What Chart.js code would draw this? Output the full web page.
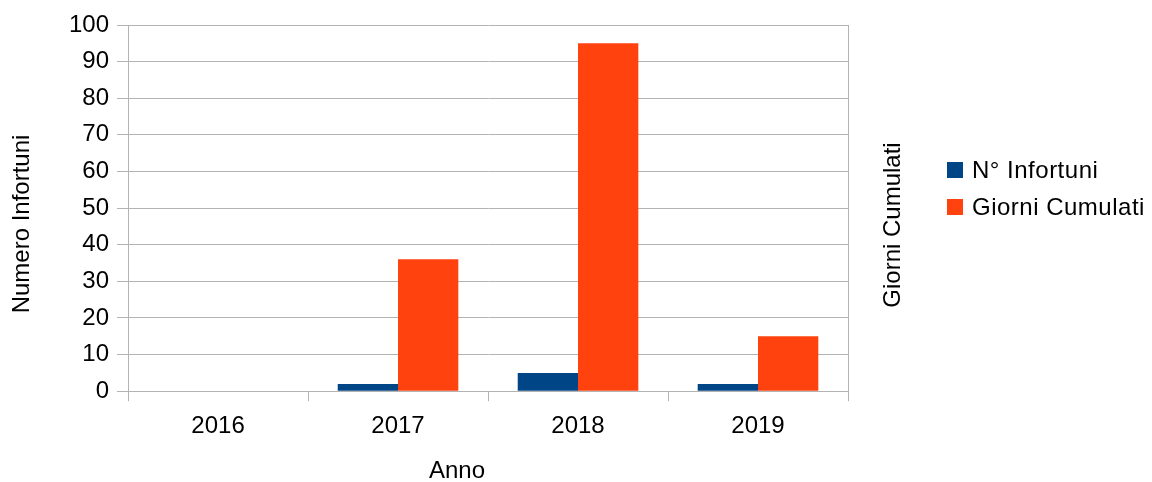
<!DOCTYPE html>
<html>
<head>
<meta charset="utf-8">
<script src="https://cdn.jsdelivr.net/npm/chart.js@4.4.1/dist/chart.umd.min.js"></script>
<style>
  body { margin: 0; background: #fff; }
  #wrap { position: relative; width: 1152px; height: 482px; }
  #legend {
    position: absolute; left: 947px; top: 156px;
    font-family: 'Liberation Sans', Arial, sans-serif; font-size: 24px; color: #000;
  }
  #legend .item { position: absolute; left: 0; white-space: nowrap; height: 28px; line-height: 28px; }
  #legend .box { position: absolute; left: 0; top: 6px; width: 16px; height: 16px; }
  #legend .txt { position: absolute; left: 25px; top: 0; letter-spacing: 0.5px; }
</style>
</head>
<body>
<div id="wrap"><canvas id="chart"></canvas><div id="legend"></div></div>
<script>
// data
const anni = ["2016", "2017", "2018", "2019"];
const numeroInfortuni = [0, 2, 5, 2];
const giorniCumulati = [0, 36, 95, 15];
const yTicks = [0, 10, 20, 30, 40, 50, 60, 70, 80, 90, 100];

const seriesNames = ["N° Infortuni", "Giorni Cumulati"];
const seriesColors = ["#004586", "#ff420e"];

const gridColor = "#b3b3b3";
const font = "'Liberation Sans', Arial, sans-serif";

Chart.defaults.font.family = font;
Chart.defaults.color = "#000";

// axis titles, placed like the original (not centred on the plot)
const axisTitles = {
    id: "axisTitles",
    afterDraw(chart) {
        const c = chart.ctx;
        c.save();
        c.font = "24px " + font;
        c.fillStyle = "#000";
        c.textAlign = "center";
        c.textBaseline = "middle";
        c.fillText("Anno", 457, 471);

        c.translate(22, 224);
        c.rotate(-Math.PI / 2);
        c.fillText("Numero Infortuni", 0, 0);
        c.restore();

        c.save();
        c.font = "24px " + font;
        c.fillStyle = "#000";
        c.textAlign = "center";
        c.textBaseline = "middle";
        c.translate(893, 225);
        c.rotate(-Math.PI / 2);
        c.fillText("Giorni Cumulati", 0, 0);
        c.restore();
    }
};

let ctx = document.getElementById("chart").getContext("2d");
let chart = new Chart(ctx, {
    type: "bar",
    data: {
        labels: anni,
        datasets: [{
            label: seriesNames[0],
            data: numeroInfortuni,
            backgroundColor: seriesColors[0],
            yAxisID: "y"
        }, {
            label: seriesNames[1],
            data: giorniCumulati,
            backgroundColor: seriesColors[1],
            yAxisID: "y"
        }]
    },
    options: {
        responsive: true,
        maintainAspectRatio: false,
        animation: false,
        categoryPercentage: 0.67,
        barPercentage: 1.0,
        layout: { padding: { top: 25, left: 61, right: 304, bottom: 30 } },
        plugins: {
            legend: { display: false },
            tooltip: { enabled: false }
        },
        scales: {
            x: {
                grid: {
                    display: true,
                    drawOnChartArea: false,
                    drawTicks: true,
                    tickLength: 10,
                    color: gridColor,
                    offset: true
                },
                border: { display: true, color: gridColor },
                ticks: { font: { size: 24 }, color: "#000", padding: 11 }
            },
            y: {
                position: "left",
                min: 0,
                max: 100,
                afterBuildTicks: axis => {
                    axis.ticks = yTicks.map(v => ({ value: v }));
                },
                grid: {
                    color: gridColor,
                    tickLength: 11
                },
                border: { display: true, color: gridColor },
                ticks: { font: { size: 24 }, color: "#000", padding: 8 }
            },
            y1: {
                position: "right",
                min: 0,
                max: 100,
                grid: { display: false },
                border: { display: true, color: gridColor },
                ticks: { display: false },
                afterFit: axis => { axis.width = 0; }
            }
        }
    },
    plugins: [axisTitles]
});

// legend built from the datasets
let legend = document.getElementById("legend");
chart.data.datasets.forEach((ds, i) => {
    let item = document.createElement("div");
    item.className = "item";
    item.style.top = (i * 37) + "px";
    item.innerHTML = '<span class="box" style="background:' + ds.backgroundColor + '"></span>' +
        '<span class="txt"></span>';
    item.querySelector(".txt").textContent = ds.label;
    legend.appendChild(item);
});
</script>
</body>
</html>
